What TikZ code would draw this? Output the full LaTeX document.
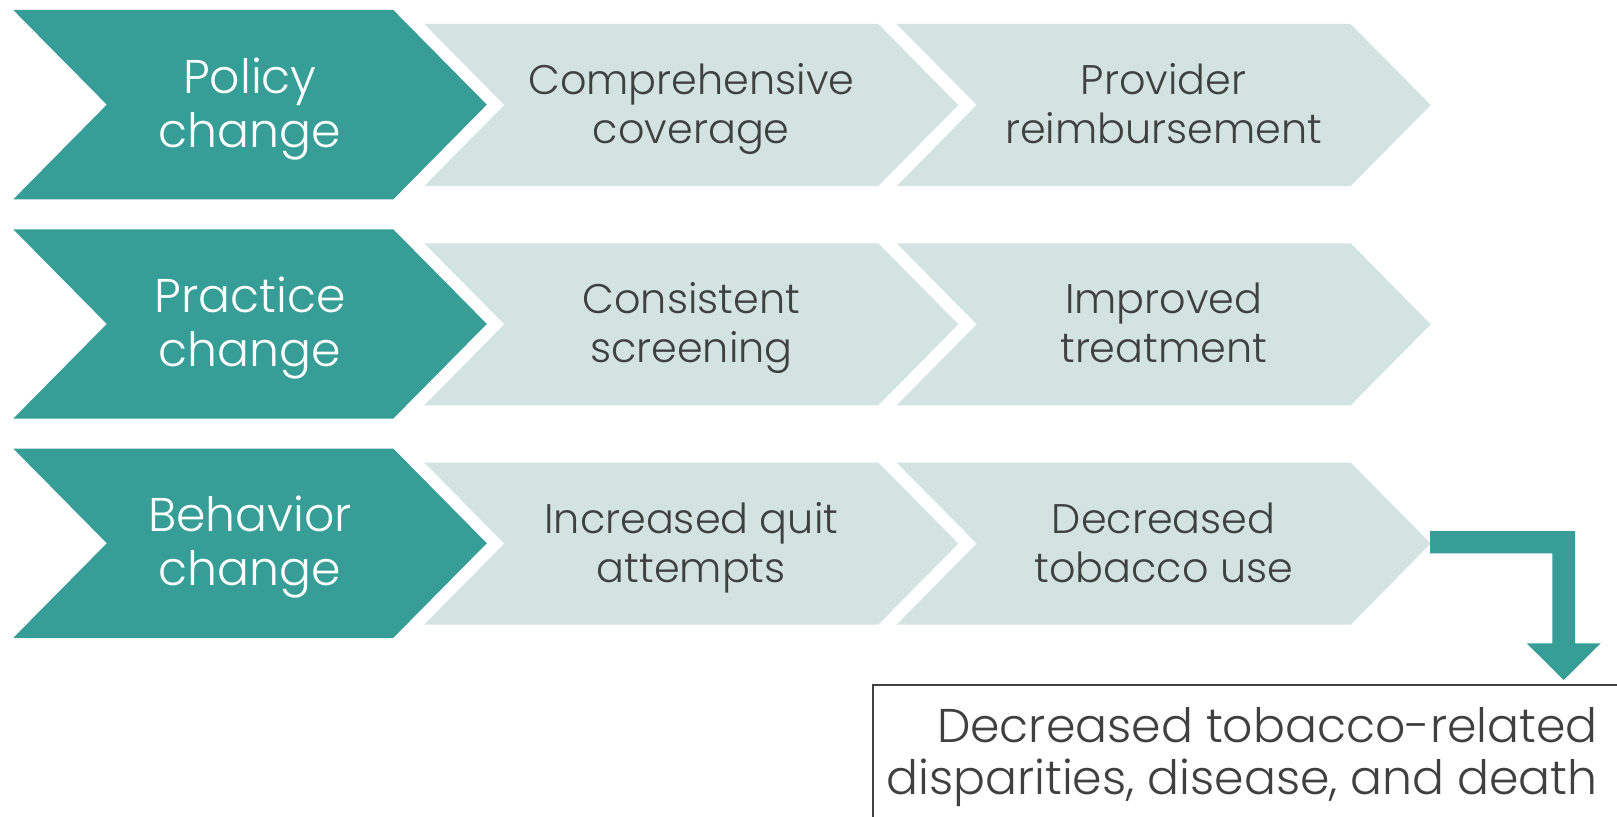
\documentclass[tikz,border=0pt]{standalone}
\usepackage{fontspec}
\IfFontExistsTF{Poppins Light}{\setmainfont{Poppins Light}}{\setmainfont{Poppins}}
\definecolor{teal1}{RGB}{54,158,150}
\definecolor{lightteal}{RGB}{210,227,225}
\definecolor{darktxt}{RGB}{64,64,64}
\newcommand{\chevshape}[6]{% fill, L, R, D, T, B
  \fill[#1] (#2,#5) -- (#3,#5) -- ({#3+#4},{(#5+#6)/2}) -- (#3,#6) -- (#2,#6) -- ({#2+#4},{(#5+#6)/2}) -- cycle;}
\tikzset{
  darklbl/.style={text=white, align=center, inner sep=0pt, font=\fontsize{35.5}{40.5}\selectfont},
  lightlbl/.style={text=darktxt, align=center, inner sep=0pt, font=\fontsize{31}{36.75}\selectfont},
  outlbl/.style={text=darktxt, align=right, inner sep=0pt, font=\fontsize{35.5}{37.5}\selectfont}
}
\begin{document}
\begin{tikzpicture}[x=0.75pt,y=-0.75pt]
\useasboundingbox (0,0) rectangle (1617,817);
% rows
\foreach \r in {0,1,2}{
  \pgfmathsetmacro{\dy}{219.3*\r}
  \chevshape{teal1}{13.3}{393.3}{93.5}{10+\dy}{199.3+\dy}
  \chevshape{lightteal}{424.3}{878.3}{80}{24+\dy}{186+\dy}
  \chevshape{lightteal}{896.7}{1350.7}{80}{24+\dy}{186+\dy}
}
\node[darklbl] (d1) at (250,109.3) {\strut Policy\\\strut change};
\node[lightlbl] (l11) at (691.3,109.3) {\strut Comprehensive\\\strut coverage};
\node[lightlbl] (l12) at (1163.7,109.3) {\strut Provider\\\strut reimbursement};
\node[darklbl] (d2) at (250,328.6) {\strut Practice\\\strut change};
\node[lightlbl] (l21) at (691.3,328.6) {\strut Consistent\\\strut screening};
\node[lightlbl] (l22) at (1163.7,328.6) {\strut Improved\\\strut treatment};
\node[darklbl] (d3) at (250,547.9) {\strut Behavior\\\strut change};
\node[lightlbl] (l31) at (691.3,547.9) {\strut Increased quit\\\strut attempts};
\node[lightlbl] (l32) at (1163.7,547.9) {\strut Decreased\\\strut tobacco use};
% bent arrow from the last chevron down to the outcome box
\fill[teal1] (1430,531) -- (1575,531) -- (1575,643.3) -- (1600.7,643.3) -- (1563.7,680) -- (1526.7,643.3) -- (1552.3,643.3) -- (1552.3,553.3) -- (1430,553.3) -- cycle;
% outcome box
\begin{scope}
\clip (0,0) rectangle (1617,817);
\draw[darktxt, line width=1.5pt] (872.7,685) rectangle (1660,860);
\end{scope}
\node[outlbl, anchor=north east] (out) at (1598,707) {\strut Decreased tobacco-related\\\strut disparities, disease, and death};
\end{tikzpicture}
\end{document}
